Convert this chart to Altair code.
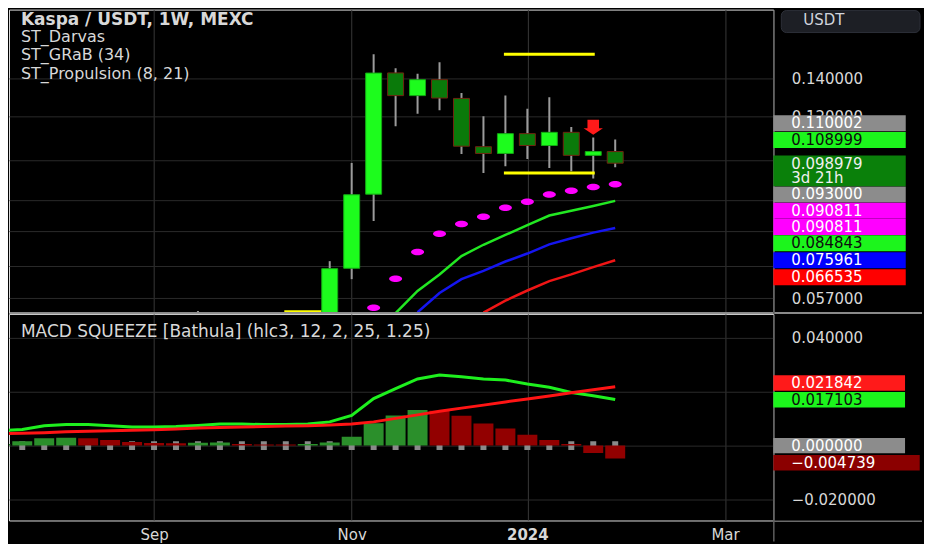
import altair as alt
import numpy as np
import pandas as pd

# ---------------- data ----------------
# weekly candles (week start dates)
candle_dates = ["2023-09-18", "2023-10-30", "2023-11-06", "2023-11-13", "2023-11-20",
                "2023-11-27", "2023-12-04", "2023-12-11", "2023-12-18", "2023-12-25",
                "2024-01-01", "2024-01-08", "2024-01-15", "2024-01-22", "2024-01-29"]
candle_open = [0.0475, 0.0505, 0.0644, 0.0872, 0.1432, 0.1305, 0.1393, 0.1290, 0.1059,
               0.1030, 0.1117, 0.1064, 0.1123, 0.1022, 0.1038]
candle_high = [0.0541, 0.0663, 0.0991, 0.1546, 0.1460, 0.1427, 0.1496, 0.1319, 0.1199,
               0.1306, 0.1237, 0.1296, 0.1148, 0.110002, 0.1090]
candle_low = [0.0462, 0.0490, 0.0616, 0.0781, 0.1151, 0.1212, 0.1229, 0.1028, 0.0951,
              0.0978, 0.1007, 0.0971, 0.0958, 0.0930, 0.0974]
candle_close = [0.0488, 0.0643, 0.0870, 0.1431, 0.1305, 0.1393, 0.1292, 0.1061, 0.1030,
                0.1117, 0.1064, 0.1123, 0.1022, 0.1038, 0.098979]

# ST_Darvas box edges
darvas_start = ["2023-10-16", "2023-12-25", "2023-12-25"]
darvas_end = ["2023-10-30", "2024-01-22", "2024-01-22"]
darvas_level = [0.0539, 0.1546, 0.0951]

# ST_Propulsion lines
prop_dates = ["2023-11-20", "2023-11-27", "2023-12-04", "2023-12-11", "2023-12-18",
              "2023-12-25", "2024-01-01", "2024-01-08", "2024-01-15", "2024-01-22", "2024-01-29"]
prop_fast = [0.0536, 0.0587, 0.0628, 0.0677, 0.0709, 0.0738, 0.0768, 0.0799, 0.0815, 0.0831, 0.084843]
prop_mid = [None, 0.0538, 0.0582, 0.0616, 0.0637, 0.0662, 0.0684, 0.0710, 0.0728, 0.0745, 0.075961]
prop_slow = [None, None, None, None, 0.0537, 0.0564, 0.0588, 0.0611, 0.0628, 0.0647, 0.066535]

# ST_GRaB dots
grab_dates = ["2023-11-13", "2023-11-20", "2023-11-27", "2023-12-04", "2023-12-11", "2023-12-18",
              "2023-12-25", "2024-01-01", "2024-01-08", "2024-01-15", "2024-01-22", "2024-01-29"]
grab_values = [0.0548, 0.0617, 0.0688, 0.0742, 0.0772, 0.0795, 0.0825, 0.0845, 0.0871, 0.0884,
               0.0898, 0.090811]

# sell signal arrow
sell_dates = ["2024-01-22"]
sell_level = [0.1146]

# MACD squeeze panel
macd_dates = ["2023-07-17", "2023-07-24", "2023-07-31", "2023-08-07", "2023-08-14", "2023-08-21",
              "2023-08-28", "2023-09-04", "2023-09-11", "2023-09-18", "2023-09-25", "2023-10-02",
              "2023-10-09", "2023-10-16", "2023-10-23", "2023-10-30", "2023-11-06", "2023-11-13",
              "2023-11-20", "2023-11-27", "2023-12-04", "2023-12-11", "2023-12-18", "2023-12-25",
              "2024-01-01", "2024-01-08", "2024-01-15", "2024-01-22", "2024-01-29"]
hist_values = [0.0006, 0.0016, 0.0027, 0.0029, 0.0027, 0.0021, 0.0013, 0.0010, 0.0009, 0.0011,
               0.0012, 0.0006, 0.0004, 0.0004, 0.0006, 0.0012, 0.0033, 0.0083, 0.0112, 0.0132,
               0.0129, 0.0111, 0.0082, 0.0063, 0.0040, 0.0021, 0.0006, -0.0027, -0.004739]
hist_dir = ["up", "up", "up", "up", "down", "down", "down", "down", "down", "up",
            "up", "down", "down", "down", "up", "up", "up", "up", "up", "up",
            "down", "down", "down", "down", "down", "down", "down", "down", "down"]
macd_line = [0.0055, 0.0060, 0.0074, 0.0078, 0.0078, 0.0074, 0.0069, 0.0069, 0.0071, 0.0075,
             0.0080, 0.0080, 0.0078, 0.0078, 0.0080, 0.0088, 0.0112, 0.0174, 0.0211, 0.0247,
             0.0262, 0.0255, 0.0247, 0.0243, 0.0228, 0.0216, 0.0197, 0.0185, 0.017103]
signal_line = [0.0044, 0.0046, 0.0048, 0.0051, 0.0053, 0.0055, 0.0057, 0.0059, 0.0062, 0.0065,
               0.0067, 0.0069, 0.0071, 0.0073, 0.0074, 0.0076, 0.0080, 0.0088, 0.0101, 0.0114,
               0.0127, 0.0139, 0.0150, 0.0162, 0.0173, 0.0184, 0.0196, 0.0207, 0.021842]

# axis ticks (grid) and the tick labels left uncovered by the price tags
month_ticks = ["2023-09-04", "2023-11-06", "2024-01-01", "2024-03-04"]
price_ticks = [0.14, 0.12, 0.10, 0.085, 0.075, 0.065, 0.057]
price_labelled = [0.14, 0.12, 0.057]
macd_ticks = [0.04, 0.02, 0.0, -0.02]
macd_labelled = [0.04, -0.02]

# price scale tags (value text, role, level where the tag sits)
price_tag_text = ["0.110002", "0.108999", "0.093000", "0.090811", "0.090811", "0.084843", "0.075961", "0.066535"]
price_tag_role = ["prev_high", "high", "prev_low", "grab", "grab", "fast", "mid", "slow"]
price_tag_level = [0.11651, 0.10884, 0.08709, 0.08145, 0.07627, 0.07133, 0.06655, 0.06206]
last_tag_text = ["0.098979\n3d 21h"]
last_tag_level = [0.0959]

macd_tag_text = ["0.021842", "0.017103", "0.000000"]
macd_tag_role = ["signal", "macd", "zero"]
macd_tag_level = [0.02322, 0.0170, 0.0]
hist_tag_text = ["\u22120.004739"]
hist_tag_level = [-0.00636]

title_text = "Kaspa / USDT, 1W, MEXC"
indicator_names = ["ST_Darvas", "ST_GRaB (34)", "ST_Propulsion (8, 21)"]
macd_title = "MACD SQUEEZE [Bathula] (hlc3, 12, 2, 25, 1.25)"
currency = "USDT"

# ---------------- style / layout ----------------
FONT = "DejaVu Sans"
TXT = "#d8d8d8"
HGRID = "#2a2a2a"
VGRID = "#383838"
W, H1, H2 = 766, 304, 207
FULLW = 915
LBL = 15

TAG_FILL = {"prev_high": "#8c8c8c", "high": "#1cf51c", "prev_low": "#8c8c8c", "grab": "#ff00ff",
            "fast": "#1cf51c", "mid": "#0000ff", "slow": "#ff0000", "last": "#0a800a",
            "signal": "#ff1a1a", "macd": "#1cf51c", "zero": "#8c8c8c", "hist": "#8b0000"}
TAG_TEXT = {"prev_high": "#ffffff", "high": "#0d0d0d", "prev_low": "#ffffff", "grab": "#ffffff",
            "fast": "#0d0d0d", "mid": "#ffffff", "slow": "#ffffff", "last": "#f0f0f0",
            "signal": "#ffffff", "macd": "#0d0d0d", "zero": "#ffffff", "hist": "#ffffff"}


def ms(s):
    return int(pd.Timestamp(s, tz="UTC").value // 1_000_000)


def js_list(vals):
    return "[" + ",".join(repr(float(v)) for v in vals) + "]"


xscale = alt.Scale(type="utc", domain=[ms("2023-07-21T08:40"), ms("2024-03-17T19:26")])
xvals = [ms(d) for d in month_ticks]
pscale = alt.Scale(type="log", domain=[0.05365, 0.18554], nice=False)
mscale = alt.Scale(domain=[-0.02773, 0.0488], nice=False, zero=False)

x_axis_top = alt.Axis(values=xvals, grid=True, gridColor=VGRID, labels=False, ticks=False,
                      tickSize=0, domain=False, title=None)
x_axis_bot = alt.Axis(
    values=xvals, grid=True, gridColor=VGRID, ticks=False, tickSize=0, domain=False, title=None,
    labelExpr="utcmonth(datum.value) == 0 ? utcFormat(datum.value, '%Y') : utcFormat(datum.value, '%b')",
    labelFontWeight={"condition": {"test": "utcmonth(datum.value) == 0", "value": "bold"}, "value": "normal"},
    labelColor=TXT, labelFont=FONT, labelFontSize=15, labelPadding=14, labelBaseline="middle",
    labelAlign="center", labelFlush=False, labelOverlap=False)
p_axis = alt.Axis(
    orient="right", values=price_ticks,
    labelExpr=f"indexof({js_list(price_labelled)}, datum.value) >= 0 ? format(datum.value, '.6f') : ''",
    grid=True, gridColor=HGRID, ticks=False, tickSize=0, domain=False, title=None,
    labelColor=TXT, labelFont=FONT, labelFontSize=LBL, labelPadding=18, labelAlign="left",
    labelBaseline="middle", labelOverlap=False, labelFlush=False)
m_axis = alt.Axis(
    orient="right", values=macd_ticks,
    labelExpr=f"indexof({js_list(macd_labelled)}, datum.value) >= 0 ? replace(format(datum.value, '.6f'), '-', '\u2212') : ''",
    grid=True, gridColor=HGRID, ticks=False, tickSize=0, domain=False, title=None,
    labelColor=TXT, labelFont=FONT, labelFontSize=LBL, labelPadding=18, labelAlign="left",
    labelBaseline="middle", labelOverlap=False, labelFlush=False)


def XT(f):
    return alt.X(f"{f}:T", scale=xscale, axis=x_axis_top)


def XB(f):
    return alt.X(f"{f}:T", scale=xscale, axis=x_axis_bot)


def YP(f):
    return alt.Y(f"{f}:Q", scale=pscale, axis=p_axis)


def YM(f):
    return alt.Y(f"{f}:Q", scale=mscale, axis=m_axis)


one = pd.DataFrame({"a": [0]})


def label(text, x, y, size=16, weight="normal", color=TXT):
    return alt.Chart(pd.DataFrame({"t": [text]})).mark_text(
        align="left", baseline="middle", font=FONT, fontSize=size, fontWeight=weight, color=color
    ).encode(text="t:N", x=alt.value(x), y=alt.value(y))


def hrule(y, color, width):
    return alt.Chart(one).mark_rule(color=color, strokeWidth=width).encode(
        x=alt.value(1), x2=alt.value(FULLW), y=alt.value(y))


def vrule(x, y2, color, width):
    return alt.Chart(one).mark_rule(color=color, strokeWidth=width).encode(
        x=alt.value(x), y=alt.value(1), y2=alt.value(y2))


# ---------------- price panel ----------------
cdf = pd.DataFrame({"date": candle_dates, "open": candle_open, "high": candle_high,
                    "low": candle_low, "close": candle_close})
bull = cdf["close"] >= cdf["open"]
cdf["body"] = np.where(bull, "#1dfc1d", "#0a7a0a")
cdf["edge"] = np.where(bull, "#14a814", "#6e2410")

wicks = alt.Chart(cdf).mark_rule(color="#9b9b9b", strokeWidth=2, clip=True).encode(
    x=XT("date"), y=YP("low"), y2="high")
bodies = alt.Chart(cdf).mark_bar(size=16, strokeWidth=1, clip=True).encode(
    x=XT("date"), y=YP("open"), y2="close",
    color=alt.Color("body:N", scale=None), stroke=alt.Stroke("edge:N", scale=None))

ddf = pd.DataFrame({"start": darvas_start, "end": darvas_end, "level": darvas_level})
darvas = alt.Chart(ddf).mark_rule(color="#ffff00", strokeWidth=3, strokeCap="square", clip=True).encode(
    x=XT("start"), x2="end", y=YP("level"))

ldf = pd.concat([
    pd.DataFrame({"date": prop_dates, "v": prop_fast, "c": "#22e822"}),
    pd.DataFrame({"date": prop_dates, "v": prop_mid, "c": "#1515f0"}),
    pd.DataFrame({"date": prop_dates, "v": prop_slow, "c": "#f01515"}),
]).dropna()
plines = alt.Chart(ldf).mark_line(strokeWidth=2.5, clip=True).encode(
    x=XT("date"), y=YP("v"), color=alt.Color("c:N", scale=None))

gdf = pd.DataFrame({"date": grab_dates, "v": grab_values})
dots = alt.Chart(gdf).mark_point(
    shape="M-1,0A1,0.5,0,1,1,1,0A1,0.5,0,1,1,-1,0Z", size=169, filled=True, opacity=1,
    color="#ff00ff", strokeWidth=0, clip=True).encode(x=XT("date"), y=YP("v"))

sdf = pd.DataFrame({"date": sell_dates, "v": sell_level})
arrow = alt.Chart(sdf).mark_point(
    shape="M-0.58,-0.77L0.58,-0.77L0.58,0.1L0.97,0.1L0,0.73L-0.97,0.1L-0.58,0.1Z",
    size=400, filled=True, opacity=1, color="#ff1a1a", strokeWidth=0, clip=True).encode(
    x=XT("date"), y=YP("v"))

TAG = "M0,-0.16L2.654,-0.16L2.654,0.16L0,0.16Z"
TAG2 = "M0,-0.307L2.654,-0.307L2.654,0.307L0,0.307Z"
MTAG = "M0,-0.155L2.64,-0.155L2.64,0.155L0,0.155Z"
MTAGW = "M0,-0.155L2.934,-0.155L2.934,0.155L0,0.155Z"

tdf = pd.DataFrame({"t": price_tag_text, "role": price_tag_role, "lvl": price_tag_level})
tdf["fill"] = tdf["role"].map(TAG_FILL)
tdf["tc"] = tdf["role"].map(TAG_TEXT)
tag_box = alt.Chart(tdf).mark_point(shape=TAG, size=10000, filled=True, opacity=1, strokeWidth=0).encode(
    x=alt.value(W), y=YP("lvl"), color=alt.Color("fill:N", scale=None))
tag_txt = alt.Chart(tdf).mark_text(align="left", baseline="middle", font=FONT, fontSize=LBL).encode(
    x=alt.value(W + 18), y=YP("lvl"), text="t:N", color=alt.Color("tc:N", scale=None))

lastdf = pd.DataFrame({"t": last_tag_text, "lvl": last_tag_level})
last_box = alt.Chart(lastdf).mark_point(shape=TAG2, size=10000, filled=True, opacity=1, strokeWidth=0,
                                         color=TAG_FILL["last"]).encode(x=alt.value(W), y=YP("lvl"))
last_txt = alt.Chart(lastdf).mark_text(align="left", baseline="middle", font=FONT, fontSize=LBL,
                                       lineBreak="\n", lineHeight=13.5, dy=-6.75,
                                       color=TAG_TEXT["last"]).encode(
    x=alt.value(W + 18), y=YP("lvl"), text="t:N")

usdt_box = alt.Chart(one).mark_rect(color="#1d1f25", stroke="#2c2f38", strokeWidth=1, cornerRadius=5).encode(
    x=alt.value(774), x2=alt.value(913), y=alt.value(1), y2=alt.value(23))
usdt_txt = label(currency, 796, 10, size=15, color="#d1d4dc")

price = alt.layer(
    wicks, darvas, bodies, plines, dots, arrow,
    label(title_text, 12, 10, size=17, weight="bold"),
    label(indicator_names[0], 12, 27),
    label(indicator_names[1], 12, 45.5),
    label(indicator_names[2], 12, 64.5),
    hrule(H1, "#8a8a8a", 2),
    vrule(W + 0.5, H1 + 1, "#5e5e5e", 1.5),
    tag_box, tag_txt, last_box, last_txt, usdt_box, usdt_txt,
).properties(width=W, height=H1)

# ---------------- MACD panel ----------------
mdf = pd.DataFrame({"date": macd_dates, "hist": hist_values, "dir": hist_dir})
mdf["c"] = mdf["dir"].map({"up": "#2b8f2b", "down": "#920000"})
mdf["z"] = 0.0
squeeze = alt.Chart(mdf).mark_point(
    shape="M-0.667,-1L0.667,-1L0.667,1L-0.667,1Z", size=81, filled=True, opacity=1,
    color="#8a8a8a", strokeWidth=0, clip=True).encode(x=XB("date"), y=YM("z"))
bars = alt.Chart(mdf).mark_bar(size=20, clip=True).encode(
    x=XB("date"), y=YM("hist"), y2=alt.datum(0), color=alt.Color("c:N", scale=None))

mldf = pd.concat([
    pd.DataFrame({"date": macd_dates, "v": macd_line, "c": "#1ef01e"}),
    pd.DataFrame({"date": macd_dates, "v": signal_line, "c": "#ff1414"}),
])
mlines = alt.Chart(mldf).mark_line(strokeWidth=3, clip=True).encode(
    x=XB("date"), y=YM("v"), color=alt.Color("c:N", scale=None))

mtdf = pd.DataFrame({"t": macd_tag_text, "role": macd_tag_role, "lvl": macd_tag_level})
mtdf["fill"] = mtdf["role"].map(TAG_FILL)
mtdf["tc"] = mtdf["role"].map(TAG_TEXT)
mtag_box = alt.Chart(mtdf).mark_point(shape=MTAG, size=10000, filled=True, opacity=1, strokeWidth=0).encode(
    x=alt.value(W), y=YM("lvl"), color=alt.Color("fill:N", scale=None))
mtag_txt = alt.Chart(mtdf).mark_text(align="left", baseline="middle", font=FONT, fontSize=LBL).encode(
    x=alt.value(W + 18), y=YM("lvl"), text="t:N", color=alt.Color("tc:N", scale=None))

hdf = pd.DataFrame({"t": hist_tag_text, "lvl": hist_tag_level})
htag_box = alt.Chart(hdf).mark_point(shape=MTAGW, size=10000, filled=True, opacity=1, strokeWidth=0,
                                     color=TAG_FILL["hist"]).encode(x=alt.value(W), y=YM("lvl"))
htag_txt = alt.Chart(hdf).mark_text(align="left", baseline="middle", font=FONT, fontSize=LBL,
                                    color=TAG_TEXT["hist"]).encode(x=alt.value(W + 18), y=YM("lvl"), text="t:N")

macd = alt.layer(
    squeeze, bars, mlines,
    label(macd_title, 12, 18, size=17),
    hrule(H2 + 0.7, "#6a6a6a", 1.5),
    vrule(W + 0.5, H2 + 21, "#5e5e5e", 1.5),
    mtag_box, mtag_txt, htag_box, htag_txt,
).properties(width=W, height=H2)

chart = alt.vconcat(price, macd, spacing=1, bounds="flush").properties(
    background="#000000", padding=0
).configure_view(stroke=None).configure(font=FONT)

chart.save("out.html", embed_options={"renderer": "svg", "actions": False})
